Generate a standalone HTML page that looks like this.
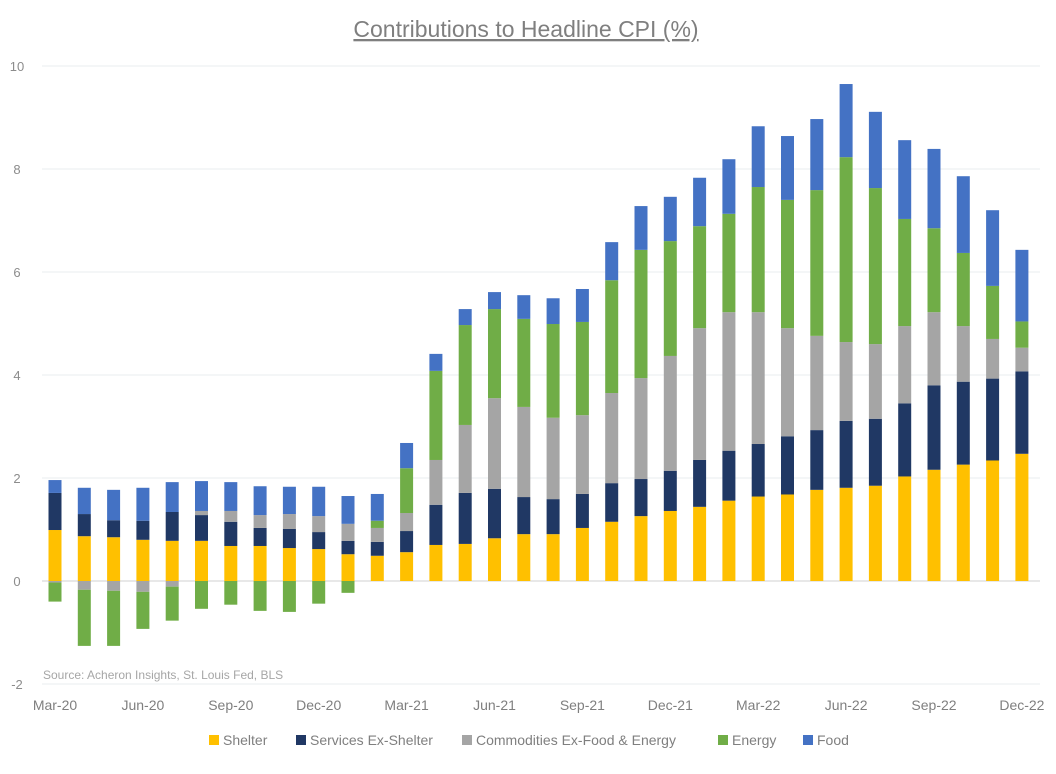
<!DOCTYPE html>
<html><head><meta charset="utf-8"><style>
body{margin:0;background:#fff;width:1056px;height:769px;overflow:hidden;font-family:"Liberation Sans",sans-serif}
</style></head><body>
<svg id="chart" width="1056" height="769" xmlns="http://www.w3.org/2000/svg">
<text x="526" y="37" text-anchor="middle" font-size="23" fill="#7f7f7f" text-decoration="underline">Contributions to Headline CPI (%)</text>
<g id="grid"></g><g id="bars"></g><g id="axes"></g>
<text x="43" y="679" font-size="12" fill="#a6a6a6">Source: Acheron Insights, St. Louis Fed, BLS</text>
<g id="legend"></g>
</svg>
<script>
const months=["Mar-20","Apr-20","May-20","Jun-20","Jul-20","Aug-20","Sep-20","Oct-20","Nov-20","Dec-20","Jan-21","Feb-21","Mar-21","Apr-21","May-21","Jun-21","Jul-21","Aug-21","Sep-21","Oct-21","Nov-21","Dec-21","Jan-22","Feb-22","Mar-22","Apr-22","May-22","Jun-22","Jul-22","Aug-22","Sep-22","Oct-22","Nov-22","Dec-22"];
const shelter=[.99,.87,.85,.80,.78,.78,.68,.68,.64,.62,.52,.49,.56,.70,.72,.83,.91,.91,1.03,1.15,1.26,1.36,1.44,1.56,1.64,1.68,1.77,1.81,1.85,2.03,2.16,2.26,2.34,2.47];
const services=[.72,.43,.33,.37,.56,.50,.47,.35,.37,.33,.26,.27,.41,.78,.99,.96,.72,.68,.66,.75,.72,.78,.91,.97,1.02,1.13,1.16,1.30,1.30,1.42,1.64,1.61,1.59,1.60];
const commodities=[-.03,-.17,-.19,-.21,-.11,.08,.21,.25,.29,.31,.33,.27,.35,.87,1.32,1.76,1.75,1.58,1.53,1.75,1.96,2.23,2.56,2.69,2.56,2.10,1.83,1.53,1.45,1.50,1.42,1.08,.77,.46];
const energy=[-.37,-1.09,-1.07,-.72,-.66,-.54,-.46,-.58,-.60,-.44,-.23,.14,.87,1.73,1.94,1.73,1.71,1.82,1.81,2.19,2.49,2.23,1.98,1.91,2.43,2.49,2.83,3.59,3.03,2.08,1.63,1.42,1.03,.51];
const food=[.25,.51,.59,.64,.58,.58,.56,.56,.53,.57,.54,.52,.49,.33,.31,.33,.46,.50,.64,.74,.85,.86,.94,1.06,1.18,1.24,1.38,1.42,1.48,1.53,1.54,1.49,1.47,1.39];
const yTicks=[-2,0,2,4,6,8,10];
const seriesNames=["Shelter","Services Ex-Shelter","Commodities Ex-Food & Energy","Energy","Food"];
const colors=["#ffc000","#203864","#a5a5a5","#70ad47","#4472c4"];
const NS="http://www.w3.org/2000/svg";
const y=v=>581-v*51.5;
const x=i=>55+i*29.3;
const bw=13;
function mk(t,a,p){const e=document.createElementNS(NS,t);for(const k in a)e.setAttribute(k,a[k]);p.appendChild(e);return e;}
const grid=document.getElementById('grid'),axes=document.getElementById('axes'),bars=document.getElementById('bars'),leg=document.getElementById('legend');
yTicks.forEach(t=>{
 const l=mk('line',{x1:42,x2:1040,y1:y(t),y2:y(t),stroke:t===0?'#d0d0d0':'#e8ecef','stroke-width':1},grid);
 
 
 const tx=mk('text',{x:17,y:y(t)+5,'text-anchor':'middle','font-size':13,fill:'#8c8c8c'},axes);
 tx.textContent=t;
 
 
});
months.forEach((m,i)=>{
 if(i%3===0){
  const tx=mk('text',{x:x(i),y:710,'text-anchor':'middle','font-size':14,fill:'#7f7f7f'},axes);
  tx.textContent=m;
  
  
 }
});
const series=[shelter,services,commodities,energy,food];
months.forEach((m,i)=>{
 let pos=0,neg=0;
 series.forEach((s,k)=>{
  const v=s[i];let y0,y1;
  if(v>=0){y0=pos;y1=pos+v;pos=y1;}else{y0=neg;y1=neg+v;neg=y1;}
  const r=mk('rect',{x:x(i)-bw/2,y:Math.min(y(y0),y(y1)),width:bw,height:Math.abs(y(y1)-y(y0)),fill:colors[k]},bars);
  
  
 });
});
const lx=[209,296,462,718,803];
seriesNames.forEach((n,k)=>{
 const r=mk('rect',{x:lx[k],y:735,width:10,height:10,fill:colors[k]},leg);
 
 
 const t=mk('text',{x:lx[k]+14,y:745,'font-size':14,fill:'#7f7f7f'},leg);
 t.textContent=n;
 
 
});
</script>
</body></html>
